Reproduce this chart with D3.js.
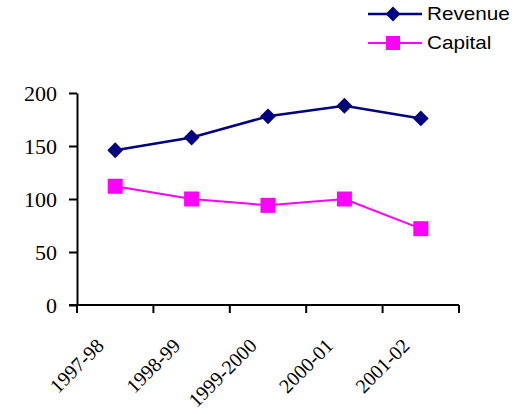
<!DOCTYPE html>
<html>
<head>
<meta charset="utf-8">
<script src="https://cdn.jsdelivr.net/npm/d3@7/dist/d3.min.js"></script>
<style>
  html, body { margin: 0; padding: 0; background: #fff; }
  svg { display: block; }
  .serif { font-family: 'Liberation Serif', 'Times New Roman', serif; }
  .sans { font-family: 'Liberation Sans', Arial, sans-serif; }
</style>
</head>
<body>
<svg id="chart" width="527" height="414"></svg>
<script>
// Fiscal years along the x axis
const years = ["1997-98", "1998-99", "1999-2000", "2000-01", "2001-02"];
// Expenditure series
const revenue = [146, 158, 178, 188, 176];
const capital = [112, 100, 94, 100, 72];
// Y axis ticks
const yTicks = [0, 50, 100, 150, 200];

(function () {
const svg = d3.select("#chart");
const plotLeft = 77, plotRight = 459, plotTop = 93, plotBottom = 305;

const x = d3.scaleBand().domain(years).range([plotLeft, plotRight]);
const y = d3.scaleLinear().domain([0, 200]).range([plotBottom, plotTop]);

// Y axis
const yAxis = svg.append("g")
  .attr("transform", `translate(${plotLeft},0)`)
  .call(d3.axisLeft(y).tickValues(yTicks).tickSize(8).tickSizeOuter(0).tickPadding(12));
yAxis.attr("font-family", null).attr("font-size", null);
yAxis.select(".domain").attr("stroke", "#000").attr("stroke-width", 2);
yAxis.selectAll(".tick line").attr("stroke", "#000").attr("stroke-width", 2);
yAxis.selectAll(".tick text")
  .attr("class", "serif")
  .style("font-size", "22px").attr("fill", "#000");

// X axis: ticks at category boundaries
const xAxis = svg.append("g").attr("transform", `translate(0,${plotBottom})`);
xAxis.append("line")
  .attr("x1", plotLeft - 8).attr("x2", plotRight)
  .attr("y1", 0).attr("y2", 0)
  .attr("stroke", "#000").attr("stroke-width", 2);
const bounds = years.map(d => x(d)).concat([x(years[years.length - 1]) + x.bandwidth()]);
xAxis.selectAll("line.tick").data(bounds).join("line")
  .attr("class", "tick")
  .attr("x1", d => d).attr("x2", d => d)
  .attr("y1", 0).attr("y2", 8)
  .attr("stroke", "#000").attr("stroke-width", 2);
xAxis.selectAll("text").data(years).join("text")
  .attr("class", "serif")
  .attr("transform", d => `translate(${x(d) + x.bandwidth() / 2 - 10},${42}) rotate(-45)`)
  .attr("text-anchor", "end")
  .style("font-size", "20px")
  .attr("fill", "#000")
  .text(d => d);

const cx = d => x(d) + x.bandwidth() / 2;
const line = d3.line().x((d, i) => cx(years[i])).y(d => y(d));

// Revenue series
svg.append("path").datum(revenue)
  .attr("d", line).attr("fill", "none")
  .attr("stroke", "#000080").attr("stroke-width", 2.5);
svg.selectAll("path.rev").data(revenue).join("path")
  .attr("class", "rev")
  .attr("d", d3.symbol(d3.symbolSquare, 125)())
  .attr("transform", (d, i) => `translate(${cx(years[i])},${y(d)}) rotate(45)`)
  .attr("fill", "#000080");

// Capital series
svg.append("path").datum(capital)
  .attr("d", line).attr("fill", "none")
  .attr("stroke", "#FF00FF").attr("stroke-width", 2);
svg.selectAll("rect.cap").data(capital).join("rect")
  .attr("class", "cap")
  .attr("x", (d, i) => cx(years[i]) - 7.5)
  .attr("y", d => y(d) - 7.5)
  .attr("width", 15).attr("height", 15)
  .attr("fill", "#FF00FF");

// Legend
const legend = [
  { name: "Revenue", color: "#000080", width: 2.5, yPos: 14, shape: "diamond" },
  { name: "Capital", color: "#FF00FF", width: 2, yPos: 43, shape: "square" }
];
const lg = svg.append("g");
legend.forEach(l => {
  lg.append("line").attr("x1", 368).attr("x2", 422)
    .attr("y1", l.yPos).attr("y2", l.yPos)
    .attr("stroke", l.color).attr("stroke-width", l.width);
  if (l.shape === "diamond") {
    lg.append("path")
      .attr("d", d3.symbol(d3.symbolSquare, 110)())
      .attr("transform", `translate(393,${l.yPos}) rotate(45)`)
      .attr("fill", l.color);
  } else {
    lg.append("rect").attr("x", 386).attr("y", l.yPos - 7)
      .attr("width", 14).attr("height", 14).attr("fill", l.color);
  }
  lg.append("text")
    .attr("class", "sans")
    .attr("transform", `translate(427,${l.yPos + 6}) scale(1.15,1)`)
    .style("font-size", "18px").attr("fill", "#000")
    .text(l.name);
});
})();
</script>
</body>
</html>
